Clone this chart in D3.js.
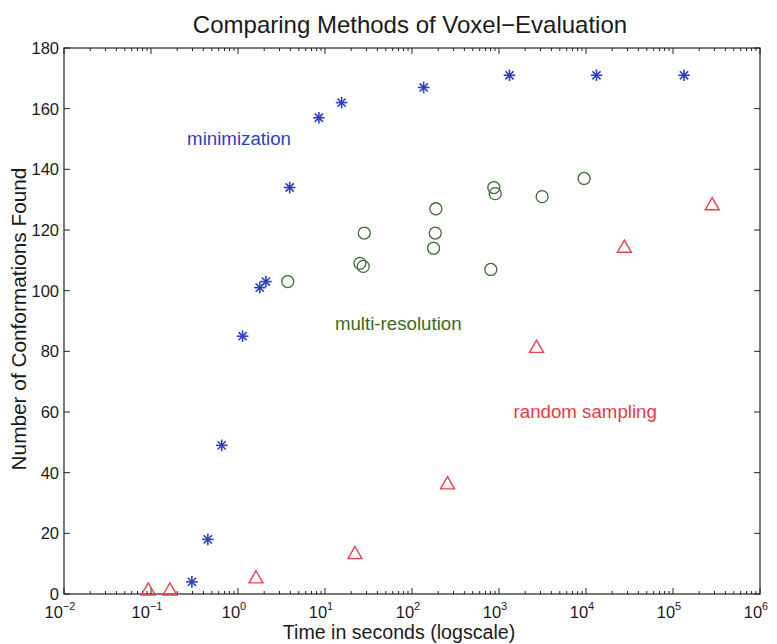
<!DOCTYPE html>
<html>
<head>
<meta charset="utf-8">
<script src="https://cdn.jsdelivr.net/npm/d3@7"></script>
<style>
  body { margin: 0; background: #fff; }
  text { font-family: "Liberation Sans", Arial, sans-serif; fill: #1a1a1a; }
</style>
</head>
<body>
<div id="chart"></div>
<script>
// minimization (time in s, conformations)
const minTime = [0.295, 0.45, 0.65, 1.13, 1.78, 2.09, 3.93, 8.5, 15.5, 136, 1320, 13200, 134000];
const minFound = [4, 18, 49, 85, 101, 103, 134, 157, 162, 167, 171, 171, 171];

// multi-resolution
const multiTime = [3.73, 28.3, 25.2, 27.5, 188, 185, 177, 805, 871, 904, 3130, 9510];
const multiFound = [103, 119, 109, 108, 127, 119, 114, 107, 134, 132, 131, 137];

// random sampling
const randTime = [0.093, 0.165, 1.61, 22.1, 256, 2700, 27600, 282000];
const randFound = [1, 1, 5, 13, 36, 81, 114, 128];

const yTicks = [0, 20, 40, 60, 80, 100, 120, 140, 160, 180];
const xDecades = [-2, -1, 0, 1, 2, 3, 4, 5, 6];

// annotation labels, in data coords
const labels = [
  {text: "minimization", t: 0.26, v: 150, color: "#2b3fc4"},
  {text: "multi-resolution", t: 13, v: 89, color: "#3b6a1f"},
  {text: "random sampling", t: 1470, v: 60, color: "#e53a45"}
];

const W = 777, H = 644;
const margin = {left: 64, right: 17, top: 48, bottom: 50};

const svg = d3.select("#chart").append("svg")
  .attr("width", W).attr("height", H);

const x = d3.scaleLog().domain([1e-2, 1e6]).range([margin.left, W - margin.right]);
const y = d3.scaleLinear().domain([0, 180]).range([H - margin.bottom, margin.top]);

const x0 = margin.left, x1 = W - margin.right, y0 = H - margin.bottom, y1 = margin.top;

// box
svg.append("rect")
  .attr("x", x0).attr("y", y1).attr("width", x1 - x0).attr("height", y0 - y1)
  .attr("fill", "none").attr("stroke", "#222").attr("stroke-width", 1.2);

// x ticks, inward on top and bottom
const minor = [];
xDecades.slice(0, -1).forEach(d => {
  for (let k = 2; k <= 9; k++) minor.push(k * Math.pow(10, d));
});
const tg = svg.append("g").attr("stroke", "#222").attr("stroke-width", 1);
minor.forEach(t => {
  tg.append("line").attr("x1", x(t)).attr("x2", x(t)).attr("y1", y0).attr("y2", y0 - 3);
  tg.append("line").attr("x1", x(t)).attr("x2", x(t)).attr("y1", y1).attr("y2", y1 + 3);
});
xDecades.forEach(d => {
  const t = Math.pow(10, d);
  tg.append("line").attr("x1", x(t)).attr("x2", x(t)).attr("y1", y0).attr("y2", y0 - 6);
  tg.append("line").attr("x1", x(t)).attr("x2", x(t)).attr("y1", y1).attr("y2", y1 + 6);
});
yTicks.forEach(v => {
  tg.append("line").attr("x1", x0).attr("x2", x0 + 6).attr("y1", y(v)).attr("y2", y(v));
  tg.append("line").attr("x1", x1).attr("x2", x1 - 6).attr("y1", y(v)).attr("y2", y(v));
});

// tick labels
svg.append("g").selectAll("text").data(yTicks).join("text")
  .attr("x", x0 - 5).attr("y", d => y(d) + 6)
  .attr("text-anchor", "end").attr("font-size", 16.5)
  .text(d => d);

const xl = svg.append("g").selectAll("text").data(xDecades).join("text")
  .attr("x", d => x(Math.pow(10, d)) - 4).attr("y", y0 + 24)
  .attr("text-anchor", "middle").attr("font-size", 16.5);
xl.append("tspan").text("10");
xl.append("tspan").attr("dy", -8).attr("font-size", 11).text(d => d < 0 ? "\u2212" + (-d) : d);

// titles
svg.append("text").attr("x", 410).attr("y", 33).attr("text-anchor", "middle")
  .attr("font-size", 24).text("Comparing Methods of Voxel\u2212Evaluation");
svg.append("text").attr("x", 399).attr("y", 639).attr("text-anchor", "middle")
  .attr("font-size", 19.6).text("Time in seconds (logscale)");
svg.append("text").attr("transform", `translate(26, ${(y0 + y1) / 2 - 2}) rotate(-90)`)
  .attr("text-anchor", "middle").attr("font-size", 20.8).text("Number of Conformations Found");

// markers
const blue = "#2b3fc4", green = "#3b6a35", red = "#e8404f";

const stars = svg.append("g").attr("stroke", blue).attr("stroke-width", 1.6);
d3.range(minTime.length).forEach(i => {
  const cx = x(minTime[i]), cy = y(minFound[i]), r = 5.8;
  [0, 45, 90, 135].forEach(a => {
    const dx = r * Math.cos(a * Math.PI / 180), dy = r * Math.sin(a * Math.PI / 180);
    stars.append("line").attr("x1", cx - dx).attr("y1", cy - dy).attr("x2", cx + dx).attr("y2", cy + dy);
  });
  stars.append("circle").attr("cx", cx).attr("cy", cy).attr("r", 1.8).attr("fill", blue).attr("stroke", "none");
});

svg.append("g").selectAll("circle").data(d3.range(multiTime.length)).join("circle")
  .attr("cx", i => x(multiTime[i])).attr("cy", i => y(multiFound[i]))
  .attr("r", 6).attr("fill", "none").attr("stroke", green).attr("stroke-width", 1.3);

const tri = d3.symbol().type(d3.symbolTriangle).size(85);
svg.append("g").selectAll("path").data(d3.range(randTime.length)).join("path")
  .attr("transform", i => `translate(${x(randTime[i])},${y(randFound[i])})`)
  .attr("d", tri).attr("fill", "none").attr("stroke", red).attr("stroke-width", 1.4);

// annotations
svg.append("g").selectAll("text").data(labels).join("text")
  .attr("x", d => x(d.t)).attr("y", d => y(d.v) + 6)
  .attr("font-size", 18.7).style("fill", d => d.color)
  .text(d => d.text);
</script>
</body>
</html>
